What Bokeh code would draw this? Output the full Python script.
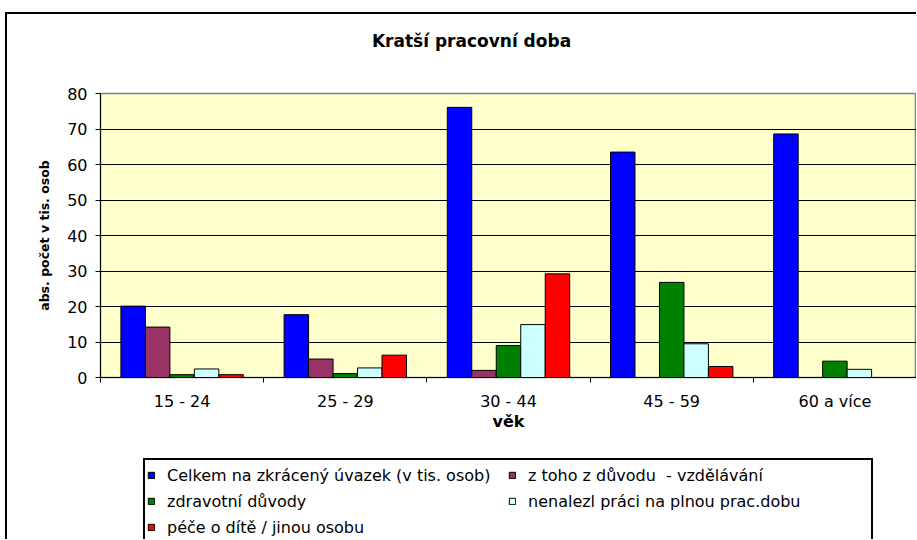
import numpy as np
from bokeh.plotting import figure
from bokeh.layouts import column
from bokeh.models import (ColumnDataSource, FixedTicker, Legend, LegendItem, Range1d, Label)
from bokeh.embed import file_html
from bokeh.resources import INLINE

# ---- data ----
categories = ["15 - 24", "25 - 29", "30 - 44", "45 - 59", "60 a více"]
celkem = [20.1, 17.7, 76.1, 63.5, 68.6]
vzdelavani = [14.2, 5.2, 2.0, 0.0, 0.0]
zdravotni = [0.8, 1.1, 9.0, 26.8, 4.6]
nenalezl = [2.4, 2.7, 14.9, 9.5, 2.3]
pece = [0.8, 6.3, 29.2, 3.1, 0.0]

series_names = [
    "Celkem na zkrácený úvazek (v tis. osob)",
    "z toho z důvodu  - vzdělávání",
    "zdravotní důvody",
    "nenalezl práci na plnou prac.dobu",
    "péče o dítě / jinou osobu",
]
series_values = [celkem, vzdelavani, zdravotni, nenalezl, pece]
series_colors = ["#0000FF", "#993366", "#008000", "#CCFFFF", "#FF0000"]

title_text = "Kratší pracovní doba"
x_title = "věk"
y_title = "abs. počet v tis. osob"

FONT = "DejaVu Sans"
W = 909


def blank_fig(h):
    f = figure(width=W, height=h, output_backend="svg", toolbar_location=None,
               x_range=Range1d(0, 1), y_range=Range1d(0, 1),
               x_axis_type=None, y_axis_type=None,
               min_border_left=0, min_border_right=0, min_border_top=0, min_border_bottom=0)
    f.outline_line_color = None
    f.background_fill_color = "white"
    f.border_fill_color = "white"
    f.xgrid.grid_line_color = None
    f.ygrid.grid_line_color = None
    return f


# ---- title strip (frame aligned with the chart frame) ----
tfig = blank_fig(67)
tfig.add_layout(Label(x=371, y=41, x_units="screen", y_units="screen", text=title_text,
                      text_font=FONT, text_font_style="bold", text_font_size="17px",
                      text_align="center", text_baseline="alphabetic", text_color="black"))

# ---- main chart ----
p = figure(width=W, height=374, output_backend="svg", toolbar_location=None,
           x_range=Range1d(0, len(categories)), y_range=Range1d(0, 80),
           min_border_left=93, min_border_right=0, min_border_top=12,
           min_border_bottom=78)
p.background_fill_color = "#FFFFCC"
p.border_fill_color = "white"
p.outline_line_color = "#808080"
p.outline_line_width = 1.5

bar_w = 0.15
centers = np.arange(len(categories)) + 0.5
for k, (name, vals, col) in enumerate(zip(series_names, series_values, series_colors)):
    off = (k - 2) * bar_w
    src = ColumnDataSource(dict(x=centers + off, top=vals))
    p.vbar(x="x", top="top", width=bar_w, bottom=0, source=src,
           fill_color=col, line_color="black", line_width=1)

xa = p.xaxis[0]
xa.ticker = FixedTicker(ticks=list(centers), minor_ticks=list(range(len(categories) + 1)))
xa.major_label_overrides = {float(c): lab for c, lab in zip(centers, categories)}
xa.major_tick_out = 0
xa.major_tick_in = 0
xa.minor_tick_out = 5
xa.minor_tick_in = 0
xa.minor_tick_line_color = "black"
xa.axis_line_color = "black"
xa.major_label_text_font = FONT
xa.major_label_text_font_size = "16px"
xa.major_label_text_color = "black"
xa.major_label_standoff = 9
xa.axis_label = x_title
xa.axis_label_text_font = FONT
xa.axis_label_text_font_style = "bold"
xa.axis_label_text_font_size = "16px"
xa.axis_label_text_color = "black"
xa.axis_label_standoff = -2

ya = p.yaxis[0]
ya.ticker = FixedTicker(ticks=list(range(0, 81, 10)), minor_ticks=[])
ya.major_tick_out = 5
ya.major_tick_in = 0
ya.major_tick_line_color = "black"
ya.axis_line_color = "black"
ya.major_label_text_font = FONT
ya.major_label_text_font_size = "16px"
ya.major_label_text_color = "black"
ya.major_label_standoff = 8
ya.axis_label = y_title
ya.axis_label_text_font = FONT
ya.axis_label_text_font_style = "bold"
ya.axis_label_text_font_size = "12.5px"
ya.axis_label_text_color = "black"
ya.axis_label_standoff = 12

p.xgrid.grid_line_color = None
p.ygrid.grid_line_color = "black"
p.ygrid.grid_line_width = 1

# ---- legend strip (frame aligned with the chart frame) ----
q = blank_fig(84)
leg_renderers = [q.vbar(x=[np.nan], top=[np.nan], width=0.1, fill_color=c,
                        line_color="black", line_width=1)
                 for c in series_colors]
legend = Legend(items=[LegendItem(label=n, renderers=[r]) for n, r in zip(series_names, leg_renderers)],
                location=(43, -5), orientation="horizontal", ncols=2,
                glyph_width=8, glyph_height=8, label_standoff=12, spacing=0,
                label_height=26, label_width=341, padding=2, margin=0,
                label_text_font=FONT, label_text_font_size="16px",
                label_text_color="black", border_line_color="black",
                border_line_alpha=1.0, border_line_width=2,
                background_fill_alpha=0)
q.add_layout(legend, "center")

layout = column(tfig, p, q, spacing=0)
layout.styles = {"margin-left": "5px", "margin-top": "12px",
                 "border-left": "2px solid black", "border-top": "2px solid black"}

open("out.html", "w").write(file_html(layout, INLINE))
